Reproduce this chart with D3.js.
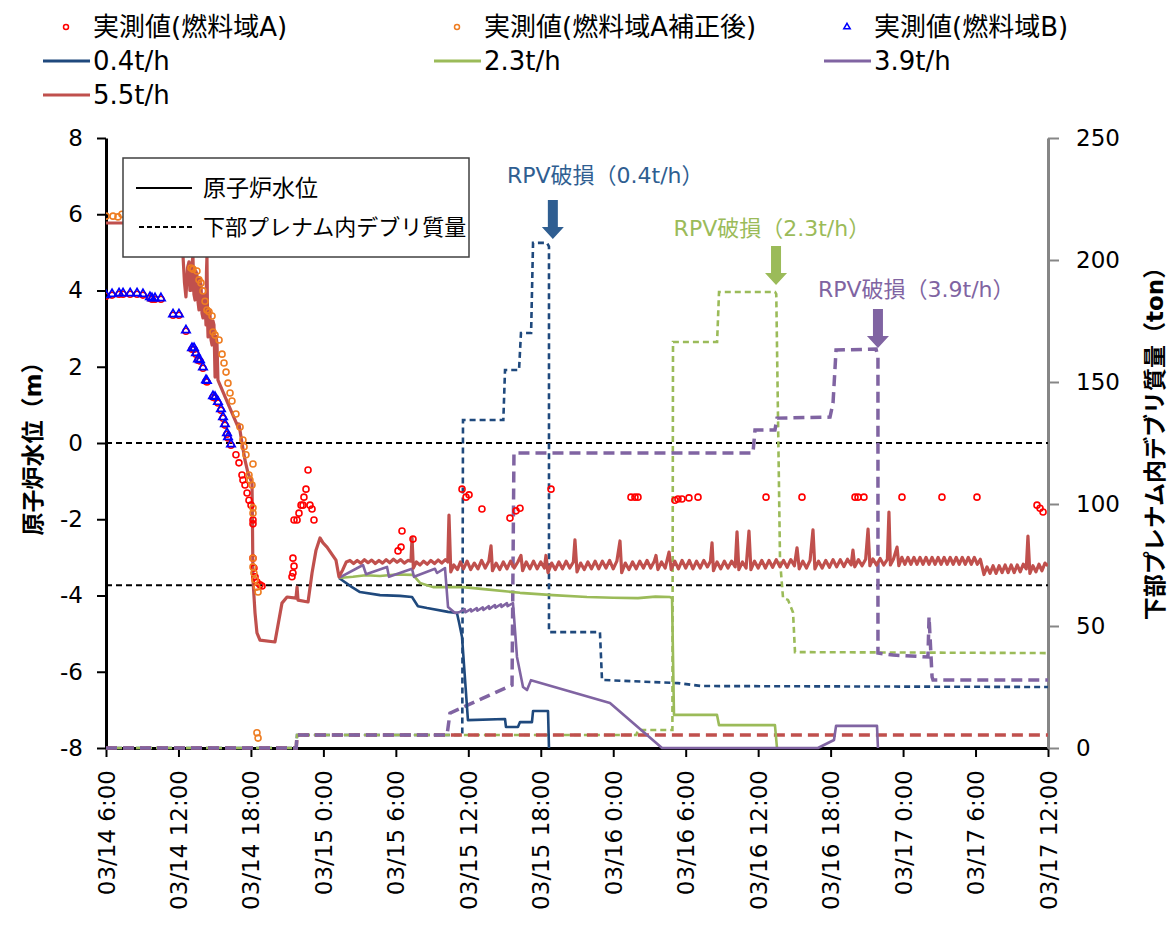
<!DOCTYPE html>
<html>
<head>
<meta charset="utf-8">
<script src="https://cdn.jsdelivr.net/npm/d3@7"></script>
<style>
  body { margin: 0; background: #fff; }
  svg text { font-family: "DejaVu Sans", "Noto Sans CJK JP", sans-serif; }
</style>
</head>
<body>
<div id="chart"></div>
<script>
// 時間軸は 03/14 6:00 からの経過時間 (h)
const timeTicks = [0, 6, 12, 18, 24, 30, 36, 42, 48, 54, 60, 66, 72, 78];
const timeLabels = ["03/14 6:00", "03/14 12:00", "03/14 18:00", "03/15 0:00", "03/15 6:00",
  "03/15 12:00", "03/15 18:00", "03/16 0:00", "03/16 6:00", "03/16 12:00",
  "03/16 18:00", "03/17 0:00", "03/17 6:00", "03/17 12:00"];
const levelTicks = [-8, -6, -4, -2, 0, 2, 4, 6, 8];
const massTicks = [0, 50, 100, 150, 200, 250];
const refLevels = [0, -3.73];

// 原子炉水位 (m)
const level04 = [[19.29,-3.54],[20.37,-3.78],[21.03,-3.91],[22.69,-3.99],[24.34,-4.01],[25.34,-4.04],
  [25.83,-4.28],[26.58,-4.33],[28.32,-4.43],[29.06,-4.46],[29.23,-4.7],[29.48,-5.09],[29.97,-7.27],
  [33.04,-7.24],[33.12,-7.45],[34.11,-7.45],[34.28,-7.32],[35.27,-7.32],[35.36,-7.03],[36.6,-7.03],[36.68,-8]];
const level23 = [[19.29,-3.54],[20.45,-3.51],[21.5,-3.47],[22.69,-3.49],[24.0,-3.45],[25.42,-3.46],
  [26.0,-3.67],[27.08,-3.78],[29.56,-3.78],[31.5,-3.84],[34.28,-3.93],[37.0,-3.99],[39.83,-4.04],
  [42.0,-4.06],[44.05,-4.07],[45.5,-4.03],[46.7,-4.04],[46.87,-4.07],[47.03,-7.13],[50.59,-7.13],
  [50.76,-7.4],[55.39,-7.4],[55.56,-8]];
const level39 = [[19.29,-3.54],[21.28,-3.2],[21.53,-3.44],[23.27,-3.25],[23.43,-3.51],[25.34,-3.3],
  [25.5,-3.51],[27.24,-3.3],[27.41,-3.41],[28.07,-3.28],[28.32,-4.3],[28.9,-4.46],[29.3,-4.43],
  [29.7,-4.36],[29.75,-4.44],[30.2,-4.36],[30.25,-4.42],[30.7,-4.33],[30.75,-4.4],[31.2,-4.31],
  [31.25,-4.38],[31.7,-4.28],[31.75,-4.35],[32.2,-4.25],[32.25,-4.32],[32.7,-4.23],[32.75,-4.3],
  [33.2,-4.2],[33.25,-4.28],[33.7,-4.2],[34.03,-5.61],[34.53,-6.4],[34.86,-6.48],[35.19,-6.22],
  [41.73,-6.82],[46.04,-8],[58.95,-8],[60.28,-7.79],[60.45,-7.42],[63.84,-7.42],[63.92,-8]];
const level55 = [[0,5.77],[6.21,5.77],[6.3,5.3],[6.38,4.88],[6.5,4.2],[6.62,3.83],[6.75,4.6],
  [6.87,4.75],[6.95,4.0],[7.04,4.01],[7.12,4.7],[7.2,4.9],[7.28,3.9],[7.37,3.75],[7.45,4.5],
  [7.53,4.41],[7.62,3.7],[7.7,3.49],[7.78,4.3],[7.87,4.14],[7.95,3.4],[8.03,3.28],[8.12,3.9],
  [8.2,3.75],[8.28,3.1],[8.32,4.5],[8.36,4.9],[8.41,3.2],[8.45,2.78],[8.53,3.5],[8.61,3.36],
  [8.7,2.7],[8.78,2.57],[8.86,3.2],[8.94,3.1],[9.03,1.73],[9.11,2.8],[9.19,2.62],[9.27,1.65],
  [10.43,0.79],[10.93,0.42],[11.01,0.5],[11.26,0],[11.51,-0.45],[11.76,-0.79],[12.09,-1.05],[12.13,-2.2],
  [12.17,-3.59],[12.34,-4.46],[12.5,-4.98],[12.75,-5.17],[13.99,-5.22],[14.57,-4.2],[14.99,-4.04],
  [15.73,-4.07],[15.82,-3.78],[15.9,-4.12],[16.73,-4.17],[17.06,-3.41],[17.39,-2.81],[17.72,-2.49],
  [17.97,-2.62],[18.3,-2.73],[19.04,-3.07],[19.29,-3.51],
  [19.6,-3.33],[19.9,-3.12],[20.2,-3.08],[20.5,-3.16],[20.8,-3.08],[21.1,-3.15],[21.4,-3.06],
  [21.7,-3.14],[22.0,-3.07],[22.3,-3.16],[22.6,-3.08],[22.9,-3.15],[23.2,-3.06],[23.5,-3.14],
  [23.8,-3.05],[24.1,-3.13],[24.4,-3.06],[24.7,-3.15],[25.0,-3.08],[25.25,-3.1],[25.34,-2.49],
  [25.45,-3.28],[25.7,-3.12],[26.0,-3.2],[26.3,-3.1],[26.6,-3.18],[26.9,-3.08],[27.2,-3.16],
  [27.5,-3.07],[27.8,-3.15],[28.1,-3.06],[28.3,-3.12],[28.4,-1.89],[28.55,-3.38],
  [28.8,-3.2],[29.1,-3.32],[29.35,-3.12],[29.6,-3.3],[29.9,-3.1],[30.2,-3.32],[30.5,-3.15],
  [30.8,-3.3],[31.1,-3.08],[31.4,-3.28],[31.7,-3.1],[31.88,-2.7],[32.0,-3.35],[32.3,-3.15],
  [32.6,-3.32],[32.9,-3.12],[33.2,-3.3],[33.5,-3.1],[33.8,-3.28],[34.1,-3.12],[34.36,-2.95],
  [34.5,-3.35],[34.8,-3.12],[35.1,-3.3],[35.4,-3.1],[35.7,-3.3],[36.0,-3.12],[36.3,-3.28],
  [36.43,-2.95],[36.6,-3.4],[36.9,-3.15],[37.2,-3.32],[37.5,-3.12],[37.8,-3.3],[38.1,-3.1],
  [38.4,-3.28],[38.7,-3.12],[38.83,-2.54],[39.0,-3.38],[39.3,-3.15],[39.6,-3.32],[39.9,-3.12],
  [40.2,-3.3],[40.5,-3.1],[40.8,-3.3],[41.1,-3.1],[41.4,-3.28],[41.7,-3.08],[42.0,-3.3],
  [42.3,-3.1],[42.56,-2.57],[42.7,-3.4],[43.0,-3.15],[43.3,-3.32],[43.6,-3.12],[43.9,-3.3],
  [44.2,-3.1],[44.5,-3.28],[44.8,-3.08],[45.1,-3.28],[45.4,-3.1],[45.54,-2.95],[45.7,-3.32],
  [46.0,-3.12],[46.3,-3.28],[46.62,-2.86],[46.8,-3.32],
  [47.1,-3.1],[47.4,-3.3],[47.7,-3.08],[48.0,-3.28],[48.3,-3.08],[48.6,-3.3],[48.9,-3.1],
  [49.2,-3.28],[49.5,-3.08],[49.8,-3.25],[50.05,-3.1],[50.18,-2.62],[50.3,-3.35],[50.6,-3.12],
  [50.9,-3.3],[51.2,-3.1],[51.5,-3.28],[51.8,-3.1],[52.1,-3.25],[52.25,-2.33],[52.4,-3.32],
  [52.7,-3.12],[53.0,-3.28],[53.24,-2.31],[53.4,-3.32],[53.7,-3.1],[54.0,-3.28],[54.3,-3.08],
  [54.6,-3.28],[54.9,-3.08],[55.2,-3.26],[55.5,-3.06],[55.8,-3.25],[56.1,-3.08],[56.4,-3.26],
  [56.7,-3.06],[57.0,-3.22],[57.22,-2.75],[57.4,-3.3],[57.7,-3.1],[58.0,-3.28],[58.3,-3.08],
  [58.54,-2.28],[58.7,-3.3],[59.0,-3.1],[59.3,-3.28],[59.6,-3.08],[59.9,-3.26],[60.2,-3.06],
  [60.5,-3.25],[60.8,-3.06],[61.1,-3.24],[61.4,-3.05],[61.7,-3.2],[61.85,-2.81],[62.0,-3.25],
  [62.3,-3.06],[62.6,-3.22],[62.9,-3.05],[63.1,-2.26],[63.25,-3.22],[63.5,-3.04],[63.8,-3.2],
  [64.1,-3.03],[64.4,-3.2],[64.7,-3.05],[64.83,-1.81],[64.95,-3.2],[65.2,-3.05],[65.5,-2.73],
  [65.65,-3.22],
  [65.9,-3.0],[66.15,-3.18],[66.4,-3.0],[66.65,-3.18],[66.9,-3.0],[67.15,-3.18],[67.4,-3.0],
  [67.65,-3.18],[67.9,-3.0],[68.15,-3.18],[68.4,-3.0],[68.65,-3.18],[68.9,-3.0],[69.15,-3.18],
  [69.4,-3.0],[69.65,-3.18],[69.9,-3.0],[70.15,-3.18],[70.4,-3.0],[70.65,-3.18],[70.9,-3.0],
  [71.15,-3.18],[71.4,-3.0],[71.65,-3.18],[71.9,-3.0],[72.15,-3.18],[72.4,-3.05],
  [72.7,-3.45],[72.95,-3.25],[73.2,-3.42],[73.45,-3.22],[73.7,-3.42],[73.95,-3.22],[74.2,-3.4],
  [74.45,-3.2],[74.7,-3.4],[74.95,-3.2],[75.2,-3.4],[75.45,-3.2],[75.7,-3.38],[75.95,-3.18],
  [76.2,-3.3],[76.34,-2.44],[76.5,-3.42],[76.75,-3.22],[77.0,-3.38],[77.25,-3.18],[77.5,-3.35],
  [77.75,-3.15],[78.0,-3.22]];

// 下部プレナム内デブリ質量 (ton)
const mass04 = [[0,0],[15.75,0],[15.82,5.3],[29.5,5.3],[29.56,134.4],[32.9,134.4],[33.04,154.9],
  [34.2,154.9],[34.36,170.1],[35.2,170.1],[35.36,207],[36.52,207],[36.68,205.5],[36.68,47.5],
  [40.9,47.5],[41.07,27.9],[47.36,26.6],[49.27,25.4],[78,25]];
const mass23 = [[0,0],[15.75,0],[15.82,5.3],[43.9,5.3],[44.05,7.4],[46.9,7.4],[46.95,166.4],
  [50.6,166.4],[50.76,186.9],[55.4,186.9],[55.5,186],[55.81,77],[56.06,61.5],[56.47,60.7],
  [56.89,55.5],[57.05,39.3],[78,38.9]];
const mass39 = [[0,0],[15.75,0],[15.82,5.3],[28.24,5.3],[28.48,14.3],[33.62,25.8],[33.78,120.9],
  [53.57,120.9],[53.74,130.3],[55.39,130.3],[55.56,135.2],[59.95,135.6],[60.2,141.4],[60.45,163.1],
  [63.76,163.5],[63.92,160],[63.92,38.9],[65.17,38.1],[68.06,37.3],[68.15,53.7],[68.4,29.1],
  [68.48,27.9],[78,27.9]];
const mass55 = [[0,0],[15.75,0],[15.82,5.3],[78,5.3]];

// 実測値
const measB = [[0,3.88],[0.5,3.91],[1.08,3.93],[1.41,3.93],[2.0,3.93],[2.57,3.93],[3.06,3.91],
  [3.64,3.83],[3.81,3.8],[4.06,3.8],[4.55,3.8],[5.55,3.38],[6.04,3.38],[6.62,2.96],[7.12,2.49],
  [7.29,2.49],[7.45,2.36],[7.62,2.2],[7.78,2.18],[8.03,1.99],[8.28,1.65],[8.36,1.63],[8.86,1.23],
  [9.03,1.21],[9.27,1.08],[9.52,0.89],[9.69,0.68],[9.85,0.5],[10.02,0.26],[10.1,0.16],[10.35,-0.03]];
const measA = [[0,3.85],[0.5,3.88],[1.08,3.9],[1.41,3.9],[2.0,3.9],[2.57,3.9],[3.06,3.88],
  [3.64,3.8],[3.81,3.77],[4.06,3.77],[4.55,3.77],[5.55,3.35],[6.04,3.35],[6.62,2.93],[7.12,2.46],
  [7.29,2.46],[7.45,2.33],[7.62,2.17],[7.78,2.15],[8.03,1.96],[8.28,1.62],[8.36,1.6],[8.86,1.2],
  [9.03,1.18],[9.27,1.05],[9.52,0.86],[9.69,0.65],[9.85,0.47],[10.02,0.23],[10.1,0.13],[10.35,-0.06],
  [10.76,-0.31],[11.01,-0.52],[11.26,-0.84],[11.34,-0.97],[11.51,-1.1],[11.68,-1.31],[11.84,-1.5],
  [12.01,-1.63],[12.17,-2.02],[12.17,-2.12],[12.17,-3.02],[12.25,-3.28],[12.34,-3.51],[12.5,-3.65],
  [12.75,-3.72],[12.92,-3.75],
  [15.4,-3.51],[15.48,-3.41],[15.57,-3.23],[15.48,-3.02],[15.57,-2.02],[15.82,-2.02],[15.98,-1.84],
  [16.15,-1.63],[16.31,-1.63],[16.39,-1.42],[16.56,-1.21],[16.73,-0.71],[16.89,-1.63],[17.06,-1.73],
  [17.22,-2.02],
  [24.18,-2.83],[24.43,-2.73],[24.51,-2.31],[25.42,-2.52],
  [29.48,-1.21],[29.81,-1.42],[30.06,-1.36],[31.13,-1.73],[33.45,-1.97],[33.95,-1.78],[34.28,-1.71],
  [36.85,-1.21],[43.47,-1.42],[43.8,-1.42],[44.05,-1.42],[47.11,-1.5],[47.36,-1.47],[47.69,-1.47],
  [48.27,-1.44],[49.02,-1.42],[54.65,-1.42],[57.63,-1.42],[62.02,-1.42],[62.27,-1.42],[62.76,-1.42],
  [65.91,-1.42],[69.22,-1.42],[72.12,-1.42],[77.09,-1.63],[77.34,-1.71],[77.59,-1.81]];
const measACorr = [[0,5.95],[0.58,5.95],[0.99,5.93],[1.32,6.0],
  [7.04,4.59],[7.2,4.56],[7.53,4.51],[7.7,4.28],[7.87,4.2],[8.03,3.99],[8.2,3.72],[8.36,3.49],
  [8.53,3.44],[8.78,3.33],[8.86,2.91],[9.03,2.83],[9.36,2.7],[9.61,2.33],[9.77,2.1],[9.94,1.86],
  [10.1,1.57],[10.27,1.31],[10.43,1.1],[10.76,0.76],[11.1,0.42],[11.34,0.08],[11.43,-0.1],
  [11.59,-0.31],[12.17,-0.55],[11.84,-0.84],[11.92,-0.97],[12.09,-1.1],[12.17,-1.7],[12.17,-1.84],
  [12.17,-3.02],[12.17,-3.25],[12.25,-3.41],[12.34,-3.59],[12.5,-3.78],[12.59,-3.91],
  [12.5,-7.6],[12.59,-7.74]];

// RPV破損の注記 (矢印先端と文字位置)
const rpvNotes = [
  { label: "RPV破損（0.4t/h）", h: 37.0, ton: 208.6, th: 33.2, tton: 231.6, color: "#2F5E91" },
  { label: "RPV破損（2.3t/h）", h: 55.48, ton: 189.8, th: 47.0, tton: 209.8, color: "#9BBB59" },
  { label: "RPV破損（3.9t/h）", h: 63.92, ton: 163.9, th: 58.95, tton: 184.8, color: "#8064A2" },
];

const width = 1169, height = 926;
const padLeft = 106, padRight = 1048, padTop = 138, padBottom = 748;

const svg = d3.select("#chart").append("svg")
  .attr("width", width).attr("height", height);

const x = d3.scaleLinear().domain([0, 78]).range([padLeft, padRight]);
const y = d3.scaleLinear().domain([-8, 8]).range([padBottom, padTop]);
const yR = d3.scaleLinear().domain([0, 250]).range([padBottom, padTop]);

// 軸 (線より先に描く)
svg.append("g").attr("transform", `translate(0,${padBottom})`)
  .call(d3.axisBottom(x).tickValues(timeTicks).tickSize(9).tickSizeOuter(0)
    .tickFormat((d, i) => timeLabels[i]))
  .call((g) => g.select(".domain").attr("stroke", "#000").attr("stroke-width", 3))
  .call((g) => g.selectAll(".tick line").attr("stroke-width", 2))
  .selectAll("text")
  .attr("transform", "rotate(-90)")
  .attr("x", -22).attr("y", 0).attr("dy", "0.35em")
  .style("text-anchor", "end")
  .style("font-size", "23px").attr("fill", "#000");

svg.append("g").attr("transform", `translate(${padLeft},0)`)
  .call(d3.axisLeft(y).tickValues(levelTicks).tickSize(9).tickSizeOuter(0).tickPadding(14)
    .tickFormat((d) => String(d)))
  .call((g) => g.select(".domain").attr("stroke", "#000").attr("stroke-width", 3))
  .call((g) => g.selectAll(".tick line").attr("stroke-width", 2))
  .selectAll("text").style("font-size", "23px").attr("fill", "#000");

svg.append("g").attr("transform", `translate(${padRight},0)`)
  .call(d3.axisRight(yR).tickValues(massTicks).tickSize(11).tickSizeOuter(0).tickPadding(17))
  .call((g) => g.select(".domain").attr("stroke", "#868686").attr("stroke-width", 3))
  .call((g) => g.selectAll(".tick line").attr("stroke", "#868686").attr("stroke-width", 2))
  .selectAll("text").style("font-size", "23px").attr("fill", "#000");

svg.append("text")
  .attr("transform", `translate(33,${(padTop + padBottom) / 2}) rotate(-90)`)
  .attr("text-anchor", "middle").attr("dy", "0.35em")
  .style("font-size", "23px").style("font-weight", "bold")
  .text("原子炉水位（m）");

svg.append("text")
  .attr("transform", `translate(1155,${(padTop + padBottom) / 2 - 5}) rotate(-90)`)
  .attr("text-anchor", "middle").attr("dy", "0.35em")
  .style("font-size", "23px").style("font-weight", "bold")
  .text("下部プレナム内デブリ質量（ton）");

svg.append("clipPath").attr("id", "plot-clip")
  .append("rect").attr("x", padLeft).attr("y", padTop - 2)
  .attr("width", padRight - padLeft).attr("height", padBottom - padTop + 4);

const plot = svg.append("g").attr("clip-path", "url(#plot-clip)");

// 基準線
refLevels.forEach((v) => {
  plot.append("line")
    .attr("x1", x(0)).attr("x2", x(78))
    .attr("y1", y(v)).attr("y2", y(v))
    .attr("stroke", "#000").attr("stroke-width", 2)
    .attr("stroke-dasharray", "6,4");
});

const lineL = d3.line().x((d) => x(d[0])).y((d) => y(d[1]));
const lineR = d3.line().x((d) => x(d[0])).y((d) => yR(d[1]));

// デブリ質量 (破線)
[
  { data: mass04, color: "#1F497D", w: 2.6, dash: "6,4" },
  { data: mass23, color: "#9BBB59", w: 2.6, dash: "6,4" },
  { data: mass55, color: "#C0504D", w: 3.5, dash: "11,6" },
  { data: mass39, color: "#8064A2", w: 3.5, dash: "11,6" },
].forEach(({ data, color, w, dash }) => {
  plot.append("path").datum(data)
    .attr("fill", "none").attr("stroke", color)
    .attr("stroke-width", w).attr("stroke-dasharray", dash)
    .attr("d", lineR);
});

// 原子炉水位 (実線)
[
  { data: level04, color: "#1F497D", w: 2.6 },
  { data: level23, color: "#9BBB59", w: 2.6 },
  { data: level39, color: "#8064A2", w: 2.6 },
  { data: level55, color: "#C0504D", w: 3.2 },
].forEach(({ data, color, w }) => {
  plot.append("path").datum(data)
    .attr("fill", "none").attr("stroke", color)
    .attr("stroke-width", w).attr("stroke-linejoin", "round")
    .attr("d", lineL);
});

// 実測値
plot.selectAll(".measA").data(measA).enter().append("circle")
  .attr("cx", (d) => x(d[0])).attr("cy", (d) => y(d[1])).attr("r", 3)
  .attr("fill", "none").attr("stroke", "#FF0000").attr("stroke-width", 1.6);
plot.selectAll(".measAC").data(measACorr).enter().append("circle")
  .attr("cx", (d) => x(d[0])).attr("cy", (d) => y(d[1])).attr("r", 3)
  .attr("fill", "none").attr("stroke", "#EE7D22").attr("stroke-width", 1.6);
const tri = d3.symbol().type(d3.symbolTriangle).size(30);
plot.selectAll(".measB").data(measB).enter().append("path")
  .attr("transform", (d) => `translate(${x(d[0])},${y(d[1])})`)
  .attr("d", tri).attr("fill", "none").attr("stroke", "#0000FF").attr("stroke-width", 1.7);

// RPV破損の矢印と注記
rpvNotes.forEach((n) => {
  const tx = x(n.h), ty = yR(n.ton);
  const pts = [[tx - 5, ty - 39], [tx + 5, ty - 39], [tx + 5, ty - 12], [tx + 11, ty - 12],
    [tx, ty], [tx - 11, ty - 12], [tx - 5, ty - 12]];
  svg.append("polygon").attr("points", pts.map((p) => p.join(",")).join(" "))
    .attr("fill", n.color);
  svg.append("text").attr("x", x(n.th)).attr("y", yR(n.tton))
    .style("font-size", "22px").attr("fill", n.color).text(n.label);
});

// 凡例 (プロット内)
const box = svg.append("g");
box.append("rect").attr("x", 123).attr("y", 158).attr("width", 346).attr("height", 99)
  .attr("fill", "#fff").attr("stroke", "#404040").attr("stroke-width", 1.5);
box.append("line").attr("x1", 136).attr("x2", 192).attr("y1", 188).attr("y2", 188)
  .attr("stroke", "#000").attr("stroke-width", 2);
box.append("line").attr("x1", 139).attr("x2", 192).attr("y1", 227).attr("y2", 227)
  .attr("stroke", "#000").attr("stroke-width", 2).attr("stroke-dasharray", "5,3");
box.append("text").attr("x", 203).attr("y", 188).attr("dy", "0.35em")
  .style("font-size", "23px").text("原子炉水位");
box.append("text").attr("x", 203).attr("y", 227).attr("dy", "0.35em")
  .style("font-size", "22px").text("下部プレナム内デブリ質量");

// 凡例 (上部)
const legendItems = [
  { label: "実測値(燃料域A)", type: "circle", color: "#FF0000", lx: 66, ly: 27 },
  { label: "実測値(燃料域A補正後)", type: "circle", color: "#EE7D22", lx: 457, ly: 27 },
  { label: "実測値(燃料域B)", type: "tri", color: "#0000FF", lx: 847, ly: 27 },
  { label: "0.4t/h", type: "line", color: "#1F497D", lx: 66, ly: 61 },
  { label: "2.3t/h", type: "line", color: "#9BBB59", lx: 457, ly: 61 },
  { label: "3.9t/h", type: "line", color: "#8064A2", lx: 847, ly: 61 },
  { label: "5.5t/h", type: "line", color: "#C0504D", lx: 66, ly: 95 },
];
const legend = svg.append("g");
legendItems.forEach((it) => {
  if (it.type === "circle") {
    legend.append("circle").attr("cx", it.lx).attr("cy", it.ly).attr("r", 2.5)
      .attr("fill", "none").attr("stroke", it.color).attr("stroke-width", 1.5);
  } else if (it.type === "tri") {
    legend.append("path").attr("transform", `translate(${it.lx},${it.ly})`)
      .attr("d", d3.symbol().type(d3.symbolTriangle).size(18))
      .attr("fill", "none").attr("stroke", it.color).attr("stroke-width", 1.5);
  } else {
    legend.append("line").attr("x1", it.lx - 23).attr("x2", it.lx + 24)
      .attr("y1", it.ly).attr("y2", it.ly)
      .attr("stroke", it.color).attr("stroke-width", 3);
  }
  legend.append("text").attr("x", it.lx + 27).attr("y", it.ly).attr("dy", "0.35em")
    .style("font-size", "26px").text(it.label);
});
</script>
</body>
</html>
